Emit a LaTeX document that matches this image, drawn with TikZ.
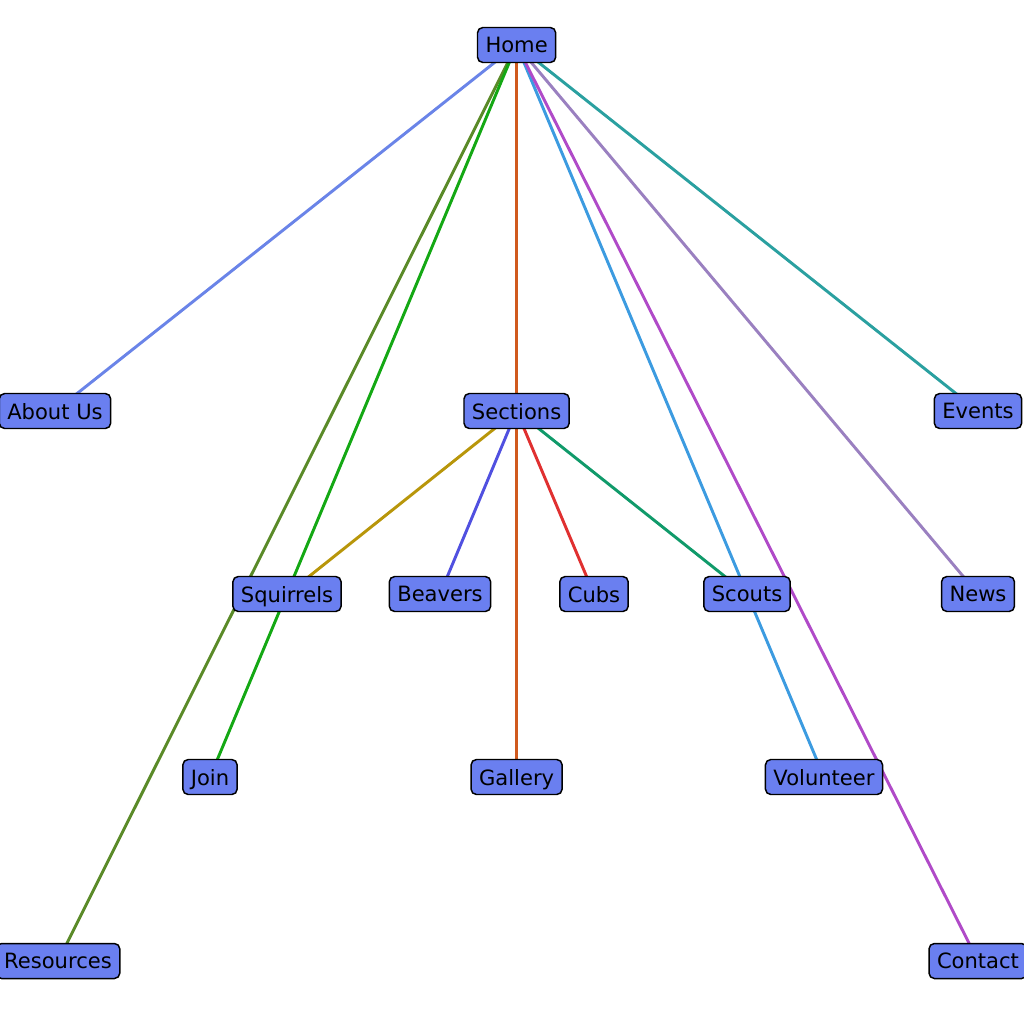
\documentclass[tikz,border=0pt]{standalone}
\usepackage{fontspec}
\setmainfont{DejaVu Sans}
\usetikzlibrary{backgrounds}
\definecolor{nodefill}{HTML}{6A7FF0}
\definecolor{cAbout}{HTML}{6A84E8}
\definecolor{cRes}{HTML}{5A8A28}
\definecolor{cJoin}{HTML}{14A814}
\definecolor{cGal}{HTML}{D05A1E}
\definecolor{cVol}{HTML}{3C9BE0}
\definecolor{cCon}{HTML}{B04AC8}
\definecolor{cNews}{HTML}{9A80C0}
\definecolor{cEv}{HTML}{2AA0A0}
\definecolor{cSq}{HTML}{B8960A}
\definecolor{cBe}{HTML}{5050E0}
\definecolor{cCu}{HTML}{E03030}
\definecolor{cSc}{HTML}{109A6A}
\tikzset{
  page/.style={draw=black, line width=1.1pt, fill=nodefill, rounded corners=4pt,
    font=\fontsize{15.8pt}{18pt}\selectfont, text=black,
    minimum height=26.25pt, inner xsep=6pt, inner ysep=0pt, text depth=0pt},
  link/.style={line width=2.2pt}
}
\begin{document}
\begin{tikzpicture}[x=0.75pt,y=-0.75pt]
\useasboundingbox (0,0) rectangle (1024,1008);
\node[page] (home) at (516.6,45) {Home};
\node[page] (about) at (55,411) {About Us};
\node[page] (sections) at (516.6,411) {Sections};
\node[page] (events) at (978,411) {Events};
\node[page] (squirrels) at (287,594) {Squirrels};
\node[page] (beavers) at (440,594) {Beavers};
\node[page] (cubs) at (594,594) {Cubs};
\node[page] (scouts) at (747,594) {Scouts};
\node[page] (news) at (978,594) {News};
\node[page] (join) at (210,777) {Join};
\node[page] (gallery) at (516.6,777) {Gallery};
\node[page] (volunteer) at (824,777) {Volunteer};
\node[page] (resources) at (58,961) {Resources};
\node[page] (contact) at (978,961) {Contact};
\begin{scope}[on background layer]
\draw[link,cAbout] (home.center) -- (about.center);
\draw[link,cRes] (home.center) -- (resources.center);
\draw[link,cJoin] (home.center) -- (join.center);
\draw[link,cGal] (home.center) -- (sections.center);
\draw[link,cGal] (sections.center) -- (gallery.center);
\draw[link,cVol] (home.center) -- (volunteer.center);
\draw[link,cCon] (home.center) -- (contact.center);
\draw[link,cNews] (home.center) -- (news.center);
\draw[link,cEv] (home.center) -- (events.center);
\draw[link,cSq] (sections.center) -- (squirrels.center);
\draw[link,cBe] (sections.center) -- (beavers.center);
\draw[link,cCu] (sections.center) -- (cubs.center);
\draw[link,cSc] (sections.center) -- (scouts.center);
\end{scope}
\end{tikzpicture}
\end{document}
